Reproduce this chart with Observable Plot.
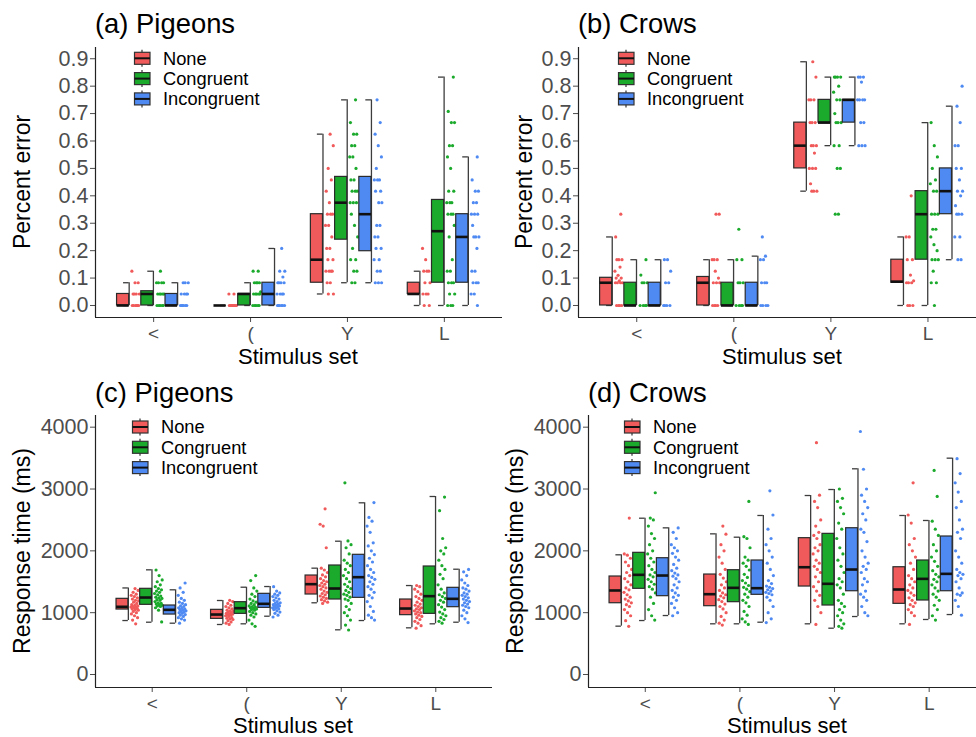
<!DOCTYPE html>
<html><head><meta charset="utf-8">
<script src="https://cdn.jsdelivr.net/npm/d3@7"></script>
<script src="https://cdn.jsdelivr.net/npm/@observablehq/plot@0.6"></script>
<style>
body{margin:0;background:#fff;}
#wrap{position:relative;width:976px;height:737px;overflow:hidden;background:#fff;font-family:"Liberation Sans",Arial,sans-serif;}
#wrap > div.panel{position:absolute;}
#overlay{position:absolute;left:0;top:0;pointer-events:none;}
</style></head><body><div id="wrap"></div>
<script>
// ---------- data ----------
const stimuli = ["<", "(", "Y", "L"];
const conditions = ["None", "Congruent", "Incongruent"];
const conditionColors = ["#F15A5A", "#1BAA2C", "#4F8AF3"];
const errorTicks = [0, 0.1, 0.2, 0.3, 0.4, 0.5, 0.6, 0.7, 0.8, 0.9];
const rtTicks = [0, 1000, 2000, 3000, 4000];

// [stimulus, condition, whiskerLow, q1, median, q3, whiskerHigh]
const pigeonsErrorBoxes = [
  ["<","None",0,0,0,0.042,0.083],
  ["<","Congruent",0,0,0.042,0.052,0.125],
  ["<","Incongruent",0,0,0,0.042,0.083],
  ["(","None",0,0,0,0,0],
  ["(","Congruent",0,0,0.042,0.042,0.083],
  ["(","Incongruent",0,0,0.042,0.083,0.208],
  ["Y","None",0.042,0.083,0.167,0.333,0.625],
  ["Y","Congruent",0.083,0.24,0.375,0.469,0.75],
  ["Y","Incongruent",0.083,0.198,0.333,0.469,0.75],
  ["L","None",0,0.042,0.042,0.083,0.125],
  ["L","Congruent",0,0.083,0.271,0.385,0.833],
  ["L","Incongruent",0,0.083,0.25,0.333,0.542]
];
const pigeonsErrorPoints = [
  ["<","None",[0,0,0,0,0,0,0.042,0.042,0.042,0.042,0.083,0.083,0.125]],
  ["<","Congruent",[0,0,0,0,0,0.042,0.042,0.042,0.042,0.042,0.083,0.083,0.083,0.083,0.125]],
  ["<","Incongruent",[0,0,0,0,0,0,0.042,0.042,0.042,0.042,0.083,0.083,0.083]],
  ["(","None",[0,0,0,0,0,0,0,0,0,0.042,0.042]],
  ["(","Congruent",[0,0,0,0,0,0.042,0.042,0.042,0.042,0.042,0.05,0.083,0.083,0.083,0.083,0.125,0.125]],
  ["(","Incongruent",[0,0,0,0,0,0,0.042,0.042,0.042,0.042,0.083,0.083,0.083,0.083,0.104,0.125,0.125,0.208]],
  ["Y","None",[0.042,0.042,0.083,0.083,0.125,0.125,0.125,0.125,0.167,0.167,0.208,0.208,0.25,0.292,0.292,0.333,0.333,0.333,0.375,0.417,0.458,0.5,0.583,0.625]],
  ["Y","Congruent",[0.083,0.083,0.125,0.125,0.167,0.167,0.208,0.25,0.292,0.333,0.375,0.375,0.375,0.417,0.417,0.417,0.458,0.458,0.5,0.542,0.542,0.583,0.583,0.625,0.625,0.667,0.75]],
  ["Y","Incongruent",[0.083,0.083,0.083,0.125,0.125,0.167,0.167,0.208,0.208,0.25,0.25,0.292,0.292,0.375,0.375,0.417,0.417,0.458,0.458,0.458,0.5,0.542,0.583,0.625,0.667,0.75]],
  ["L","None",[0,0,0.042,0.042,0.042,0.083,0.083,0.125,0.125,0.125,0.167,0.208]],
  ["L","Congruent",[0,0,0,0.042,0.042,0.083,0.083,0.083,0.125,0.125,0.167,0.25,0.292,0.333,0.333,0.333,0.375,0.375,0.375,0.417,0.417,0.5,0.542,0.583,0.583,0.667,0.667,0.708,0.833]],
  ["L","Incongruent",[0,0.042,0.042,0.083,0.083,0.083,0.125,0.125,0.208,0.25,0.25,0.25,0.292,0.333,0.333,0.333,0.375,0.375,0.417,0.417,0.458,0.542]]
];

const crowsErrorBoxes = [
  ["<","None",0,0,0.083,0.101,0.25],
  ["<","Congruent",0,0,0,0.083,0.167],
  ["<","Incongruent",0,0,0,0.083,0.167],
  ["(","None",0,0,0.083,0.104,0.167],
  ["(","Congruent",0,0,0,0.083,0.167],
  ["(","Incongruent",0,0,0,0.083,0.18],
  ["Y","None",0.417,0.5,0.583,0.667,0.889],
  ["Y","Congruent",0.583,0.667,0.667,0.75,0.833],
  ["Y","Incongruent",0.583,0.667,0.75,0.75,0.833],
  ["L","None",0,0.083,0.087,0.167,0.25],
  ["L","Congruent",0,0.167,0.333,0.417,0.667],
  ["L","Incongruent",0.167,0.333,0.417,0.5,0.727]
];
const crowsErrorPoints = [
  ["<","None",[0,0,0,0,0.083,0.083,0.083,0.083,0.09,0.1,0.1,0.11,0.125,0.14,0.167,0.167,0.167,0.25,0.333]],
  ["<","Congruent",[0,0,0,0,0.083,0.083,0.083,0.111,0.167]],
  ["<","Incongruent",[0,0,0,0,0.083,0.083,0.125,0.167,0.167]],
  ["(","None",[0,0,0,0,0.083,0.083,0.083,0.1,0.125,0.167,0.167,0.167,0.333,0.333]],
  ["(","Congruent",[0,0,0,0,0.083,0.083,0.083,0.167,0.167,0.278]],
  ["(","Incongruent",[0,0,0,0,0.083,0.083,0.083,0.167,0.167,0.18,0.25]],
  ["Y","None",[0.417,0.417,0.417,0.444,0.5,0.5,0.5,0.556,0.583,0.583,0.583,0.667,0.667,0.667,0.75,0.75,0.75,0.833,0.889]],
  ["Y","Congruent",[0.333,0.333,0.5,0.5,0.583,0.583,0.667,0.667,0.667,0.7,0.75,0.75,0.778,0.8,0.833,0.833,0.833,0.833]],
  ["Y","Incongruent",[0.583,0.583,0.583,0.667,0.667,0.75,0.75,0.75,0.75,0.815,0.833,0.833,0.833]],
  ["L","None",[0,0,0,0.083,0.083,0.083,0.09,0.111,0.167,0.167,0.25,0.25,0.4]],
  ["L","Congruent",[0,0.083,0.083,0.125,0.167,0.167,0.167,0.2,0.222,0.25,0.278,0.278,0.333,0.333,0.333,0.417,0.417,0.444,0.458,0.5,0.542,0.583,0.667]],
  ["L","Incongruent",[0.167,0.167,0.25,0.25,0.333,0.333,0.333,0.364,0.4,0.417,0.417,0.458,0.5,0.5,0.583,0.583,0.667,0.727,0.8]]
];

const pigeonsRTBoxes = [
  ["<","None",873,1051,1095,1224,1400],
  ["<","Congruent",846,1127,1245,1386,1693],
  ["<","Incongruent",830,970,1046,1116,1370],
  ["(","None",809,900,970,1046,1197],
  ["(","Congruent",820,981,1073,1170,1412],
  ["(","Incongruent",943,1078,1143,1305,1423],
  ["Y","None",1160,1294,1461,1601,1720],
  ["Y","Congruent",723,1213,1391,1763,2156],
  ["Y","Incongruent",873,1240,1574,1936,2777],
  ["L","None",755,960,1067,1213,1439],
  ["L","Congruent",820,981,1267,1747,2879],
  ["L","Incongruent",846,1089,1224,1402,1703]
];
const pigeonsRTPoints = [
  ["<","None",[820,880,920,950,980,1000,1020,1040,1050,1060,1070,1080,1090,1095,1100,1110,1120,1130,1150,1170,1190,1200,1220,1240,1260,1280,1300,1330,1360,1390]],
  ["<","Congruent",[850,1040,1080,1100,1110,1120,1130,1140,1150,1160,1180,1200,1210,1230,1240,1250,1270,1290,1310,1330,1350,1370,1390,1420,1450,1500,1530,1600,1690]],
  ["<","Incongruent",[830,880,900,920,940,960,970,990,1000,1010,1020,1030,1040,1050,1060,1070,1080,1100,1110,1130,1150,1170,1200,1230,1280,1330,1400,1480]],
  ["(","None",[810,830,850,870,890,900,910,920,940,950,960,970,975,980,990,1000,1010,1020,1030,1040,1060,1080,1100,1120,1150,1180,1200]],
  ["(","Congruent",[780,820,880,930,960,980,1000,1020,1040,1050,1060,1070,1080,1090,1100,1110,1130,1150,1170,1190,1220,1260,1300,1350,1400,1520,1600]],
  ["(","Incongruent",[930,960,990,1010,1030,1050,1060,1070,1080,1090,1100,1110,1120,1130,1140,1150,1160,1180,1200,1220,1240,1260,1280,1300,1320,1350,1420]],
  ["Y","None",[1150,1170,1190,1210,1230,1250,1270,1290,1310,1330,1350,1380,1400,1420,1440,1460,1480,1500,1520,1550,1580,1610,1650,1690,1720,2050,2400,2430,2680]],
  ["Y","Congruent",[720,800,880,950,1000,1050,1100,1150,1200,1220,1250,1280,1300,1330,1360,1390,1420,1460,1500,1550,1600,1650,1700,1760,1800,1850,1950,2050,2100,2160,3100]],
  ["Y","Incongruent",[880,920,960,1020,1100,1180,1240,1280,1330,1380,1420,1460,1500,1540,1570,1600,1650,1700,1760,1820,1880,1940,2000,2080,2130,2300,2400,2480,2540,2780]],
  ["L","None",[750,790,830,860,890,920,940,960,980,1000,1010,1030,1050,1060,1080,1100,1120,1140,1170,1200,1230,1260,1300,1340,1380,1420,1440]],
  ["L","Congruent",[830,860,890,920,950,980,1010,1050,1090,1130,1170,1200,1230,1260,1290,1320,1380,1450,1550,1620,1700,1760,1850,1950,2000,2050,2200,2650,2870]],
  ["L","Incongruent",[840,900,950,1000,1040,1080,1100,1120,1140,1160,1180,1200,1220,1240,1260,1280,1300,1320,1350,1380,1400,1440,1480,1530,1600,1660,1700]]
];

const crowsRTBoxes = [
  ["<","None",782,1153,1359,1585,1936],
  ["<","Congruent",873,1386,1612,1968,2528],
  ["<","Incongruent",954,1267,1601,1881,2372],
  ["(","None",820,1105,1299,1617,2275],
  ["(","Congruent",820,1170,1402,1687,2221],
  ["(","Incongruent",846,1289,1396,1844,2572],
  ["Y","None",820,1423,1735,2205,2895],
  ["Y","Congruent",749,1116,1467,2275,2992],
  ["Y","Incongruent",938,1347,1698,2366,3327],
  ["L","None",820,1143,1375,1735,2572],
  ["L","Congruent",890,1197,1547,1844,2491],
  ["L","Incongruent",970,1347,1628,2232,3499]
];
const crowsRTPoints = [
  ["<","None",[780,870,950,1000,1050,1100,1130,1160,1190,1220,1250,1290,1330,1370,1400,1450,1500,1550,1600,1650,1700,1760,1820,1880,1930,1950,2530]],
  ["<","Congruent",[880,950,1050,1150,1250,1320,1380,1420,1460,1500,1540,1580,1610,1650,1700,1760,1820,1880,1950,2000,2100,2200,2280,2400,2500,2530,2940]],
  ["<","Incongruent",[950,1000,1080,1150,1200,1250,1280,1320,1360,1400,1450,1500,1550,1590,1610,1640,1680,1720,1780,1850,1900,1960,2000,2050,2100,2200,2300,2370]],
  ["(","None",[800,830,880,940,1000,1060,1100,1140,1180,1210,1240,1270,1290,1320,1360,1400,1450,1500,1560,1620,1700,1800,1900,2000,2100,2270,2400]],
  ["(","Congruent",[810,850,900,960,1020,1100,1160,1200,1250,1300,1340,1380,1410,1440,1480,1520,1570,1620,1690,1750,1800,1850,1900,2050,2200,2230,2800]],
  ["(","Incongruent",[840,900,1000,1100,1200,1250,1290,1310,1330,1350,1370,1390,1410,1430,1470,1520,1600,1700,1800,1900,2000,2100,2200,2350,2580,2970]],
  ["Y","None",[810,1000,1100,1200,1280,1350,1420,1500,1580,1650,1700,1750,1800,1850,1950,2000,2050,2100,2200,2250,2300,2400,2500,2700,2800,2900,3750]],
  ["Y","Congruent",[750,780,820,880,950,1000,1050,1100,1150,1200,1300,1400,1450,1500,1550,1650,1750,1850,1950,2050,2200,2350,2450,2600,2700,2800,2850,3000]],
  ["Y","Incongruent",[950,1000,1100,1200,1250,1300,1350,1450,1500,1550,1650,1700,1750,1800,1900,2000,2150,2300,2350,2500,2600,2700,2800,2900,3000,3320,3930]],
  ["L","None",[810,950,1000,1050,1100,1130,1160,1200,1240,1280,1320,1360,1400,1450,1500,1550,1600,1700,1800,1900,2000,2100,2200,2450,2580,3100]],
  ["L","Congruent",[880,950,1050,1120,1200,1250,1300,1350,1400,1450,1500,1540,1580,1620,1680,1750,1830,1900,2000,2100,2250,2350,2480,2880,3300]],
  ["L","Incongruent",[960,1100,1200,1280,1300,1320,1400,1500,1550,1600,1620,1650,1700,1800,1900,2000,2200,2300,2350,2500,2700,2800,2950,3100,3250,3490]]
];

// ---------- layout ----------
const FONT = '"Liberation Sans", Arial, sans-serif';
const offsets = {None: -0.315, Congruent: -0.065, Incongruent: 0.185};
const halfW = 0.0625;

const panels = [
  {title: "(a) Pigeons", ylab: "Percent error", boxes: pigeonsErrorBoxes, points: pigeonsErrorPoints,
   left: 0, top: 0, width: 502, height: 370, mL: 95, mT: 47, mB: 53, xDomain: [0.4, 4.6], yDomain: [-0.0438, 0.941],
   ticks: errorTicks, fmt: d3.format(".1f"), titleBase: 33, ylabX: 30, xlabX: 298, xlabBase: 364, legX: 134, legY: 58.3},
  {title: "(b) Crows", ylab: "Percent error", boxes: crowsErrorBoxes, points: crowsErrorPoints,
   left: 502, top: 0, width: 474, height: 370, mL: 76, mT: 47, mB: 53, xDomain: [0.4, 4.5], yDomain: [-0.0438, 0.941],
   ticks: errorTicks, fmt: d3.format(".1f"), titleBase: 33, ylabX: 532, xlabX: 782, xlabBase: 364, legX: 618, legY: 58.3},
  {title: "(c) Pigeons", ylab: "Response time (ms)", boxes: pigeonsRTBoxes, points: pigeonsRTPoints,
   left: 0, top: 370, width: 492, height: 367, mL: 95, mT: 45, mB: 50, xDomain: [0.4, 4.6], yDomain: [-210, 4189],
   ticks: rtTicks, fmt: d3.format("d"), titleBase: 402, ylabX: 30, xlabX: 293, xlabBase: 733, legX: 132, legY: 427},
  {title: "(d) Crows", ylab: "Response time (ms)", boxes: crowsRTBoxes, points: crowsRTPoints,
   left: 492, top: 370, width: 484, height: 367, mL: 96, mT: 45, mB: 50, xDomain: [0.4, 4.5], yDomain: [-210, 4189],
   ticks: rtTicks, fmt: d3.format("d"), titleBase: 402, ylabX: 523, xlabX: 787, xlabBase: 733, legX: 624, legY: 427}
];

const wrap = document.getElementById("wrap");

function makePanel(cfg) {
  const sIdx = s => stimuli.indexOf(s) + 1;
  const boxes = cfg.boxes.map(([s, c, lo, q1, med, q3, hi]) => {
    const cx = sIdx(s) + offsets[c];
    return {s, c, lo, q1, med, q3, hi, x1: cx - halfW, x2: cx + halfW};
  });
  const pts = [];
  cfg.points.forEach(([s, c, vals], g) => {
    const right = sIdx(s) + offsets[c] + halfW;
    vals.forEach((v, i) => {
      const j = ((i + 1) * 0.618034 + g * 0.29) % 1;
      pts.push({c, v, x: right + 0.025 + j * 0.085});
    });
  });
  const bracketStroke = "#3d3d3d";
  const plot = Plot.plot({
    width: cfg.width, height: cfg.height,
    marginLeft: cfg.mL, marginRight: 0, marginTop: cfg.mT, marginBottom: cfg.mB,
    style: {background: "transparent", fontFamily: FONT, fontSize: "21.5px", color: "#4d4d4d", overflow: "visible"},
    marks: [
      Plot.axisX({ticks: [1, 2, 3, 4], tickFormat: i => stimuli[i - 1], tickSize: 5, tickPadding: 4, fontSize: 19, label: null}),
      Plot.axisY({ticks: cfg.ticks, tickFormat: cfg.fmt, tickSize: 5, tickPadding: 2, label: null}),
      Plot.ruleX([cfg.xDomain[0]], {stroke: "#222", strokeWidth: 1.2}),
      Plot.ruleY([cfg.yDomain[0]], {stroke: "#222", strokeWidth: 1.2}),
      Plot.ruleX(boxes, {x: "x2", y1: "lo", y2: "hi", stroke: bracketStroke, strokeWidth: 1.3}),
      Plot.ruleY(boxes, {y: "lo", x1: d => d.x2 - 0.058, x2: "x2", stroke: bracketStroke, strokeWidth: 1.3}),
      Plot.ruleY(boxes, {y: "hi", x1: d => d.x2 - 0.058, x2: "x2", stroke: bracketStroke, strokeWidth: 1.3}),
      Plot.dot(pts, {x: "x", y: "v", r: 1.6, fill: "c", stroke: null}),
      Plot.rect(boxes, {x1: "x1", x2: "x2", y1: "q1", y2: "q3", fill: "c", stroke: "#2b2b2b", strokeWidth: 1.2}),
      Plot.ruleY(boxes, {y: "med", x1: "x1", x2: "x2", stroke: "#111", strokeWidth: 2.6})
    ],
    x: {domain: cfg.xDomain},
    y: {domain: cfg.yDomain},
    color: {domain: conditions, range: conditionColors}
  });
  const div = document.createElement("div");
  div.className = "panel";
  div.style.left = cfg.left + "px";
  div.style.top = cfg.top + "px";
  div.appendChild(plot);
  wrap.appendChild(div);
}
panels.forEach(makePanel);

// ---------- overlay: titles, axis titles, legends ----------
const ov = d3.select(wrap).append("svg").attr("id", "overlay")
  .attr("width", 976).attr("height", 737).attr("font-family", FONT);
panels.forEach(cfg => {
  const axisX = cfg.left + cfg.mL;
  const plotTop = cfg.top + cfg.mT, plotBot = cfg.top + cfg.height - cfg.mB;
  ov.append("text").attr("x", axisX).attr("y", cfg.titleBase)
    .attr("font-size", 27.4).attr("fill", "#000").text(cfg.title);
  ov.append("text").attr("x", cfg.xlabX).attr("y", cfg.xlabBase)
    .attr("font-size", 22).attr("fill", "#000").attr("text-anchor", "middle").text("Stimulus set");
  const cy = (plotTop + plotBot) / 2;
  ov.append("text").attr("transform", `translate(${cfg.ylabX},${cy}) rotate(-90)`)
    .attr("font-size", 23).attr("fill", "#000").attr("text-anchor", "middle").text(cfg.ylab);
  conditions.forEach((c, k) => {
    const yc = cfg.legY + k * 20.3;
    const g = ov.append("g").attr("transform", `translate(${cfg.legX},${yc})`);
    g.append("line").attr("x1", 8).attr("x2", 8).attr("y1", -8.5).attr("y2", 8.5).attr("stroke", "#333").attr("stroke-width", 1.2);
    g.append("rect").attr("x", 0.5).attr("y", -6).attr("width", 15.5).attr("height", 12)
      .attr("fill", conditionColors[k]).attr("stroke", "#333").attr("stroke-width", 1.2);
    g.append("line").attr("x1", 0.5).attr("x2", 16).attr("y1", 0).attr("y2", 0).attr("stroke", "#111").attr("stroke-width", 2);
    ov.append("text").attr("x", cfg.legX + 29).attr("y", yc + 6.4)
      .attr("font-size", 18.3).attr("fill", "#000").text(c);
  });
});
</script></body></html>
